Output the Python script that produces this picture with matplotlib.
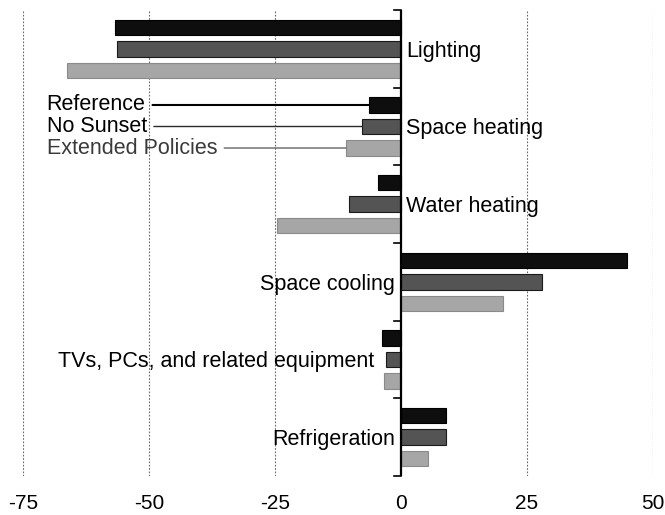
import numpy as np
import matplotlib.pyplot as plt

plt.rcParams['font.family'] = ['Liberation Sans', 'DejaVu Sans']

# end uses, top to bottom, change in percent
categories = ["Lighting", "Space heating", "Water heating", "Space cooling",
              "TVs, PCs, and related equipment", "Refrigeration"]
reference = [-56.8, -6.3, -4.6, 44.8, -3.8, 9.0]
no_sunset = [-56.4, -7.7, -10.3, 28.0, -2.9, 9.0]
extended = [-66.3, -10.9, -24.7, 20.3, -3.3, 5.3]
scenarios = ["Reference", "No Sunset", "Extended Policies"]
xticks = [-75, -50, -25, 0, 25, 50]

fig = plt.figure(figsize=(6.65, 5.15), dpi=100)
ax = fig.add_axes([23 / 665, 1 - 476 / 515, 630 / 665, 466 / 515])

n = len(categories)
centers = np.arange(n)[::-1].astype(float)  # first category on top
off = 0.277
h = 0.2
series = [reference, no_sunset, extended]
faces = ['#0e0e0e', '#545454', '#a6a6a6']
edges = ['#000000', '#1a1a1a', '#8a8a8a']
for k, vals in enumerate(series):
    ax.barh(centers + (1 - k) * off, vals, height=h, color=faces[k],
            edgecolor=edges[k], linewidth=0.8, zorder=3)

ax.set_xlim(-75, 50)
ax.set_ylim(-0.5, n - 0.5)

# dotted vertical gridlines
for x in xticks:
    if x != 0:
        ax.axvline(x, color='#666666', lw=0.8, ls=(0, (1.5, 1.5)), zorder=1)
# zero axis with category tick marks
ax.axvline(0, color='black', lw=1.6, zorder=4)
for b in np.arange(n + 1) - 0.5:
    ax.plot([-1.4, 0], [b, b], color='black', lw=1.2, clip_on=False, zorder=4)

for s in ax.spines.values():
    s.set_visible(False)
ax.set_yticks([])
ax.set_xticks(xticks)
ax.set_xticklabels([str(x) for x in xticks], fontsize=15)
ax.tick_params(axis='x', length=0, pad=13)

# category labels next to the zero line
for i, cat in enumerate(categories):
    vals = [reference[i], no_sunset[i], extended[i]]
    y = centers[i] - 0.03
    if max(vals) <= 0 and min(vals) < -4:
        ax.text(1.0, y, cat, ha='left', va='center', fontsize=15.5, zorder=5)
    elif max(vals) > 0:
        ax.text(-1.2, y, cat, ha='right', va='center', fontsize=15.5, zorder=5)
    else:
        ax.text(min(vals) - 1.6, y, cat, ha='right', va='center', fontsize=15.5, zorder=5)

# scenario labels with leader lines to the space heating bars
sh = categories.index("Space heating")
tcol = ['black', 'black', '#3a3a3a']
lcol = ['black', '#2a2a2a', '#555555']
lw = [1.5, 1.0, 0.9]
for k, name in enumerate(scenarios):
    y = centers[sh] + (1 - k) * off
    ax.annotate(name, xy=(series[k][sh], y), xytext=(-70.3, y),
                ha='left', va='center', fontsize=15.5, color=tcol[k],
                arrowprops=dict(arrowstyle='-', color=lcol[k], lw=lw[k],
                                shrinkA=3, shrinkB=0), zorder=5)

fig.savefig('out.png', dpi=100)
